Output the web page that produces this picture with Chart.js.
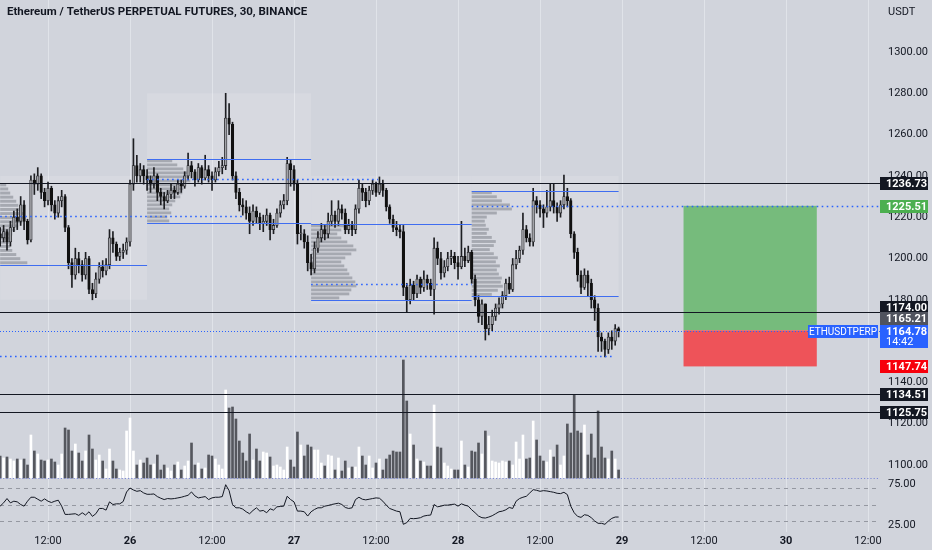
<!DOCTYPE html>
<html>
<head>
<meta charset="utf-8">
<script src="https://cdn.jsdelivr.net/npm/chart.js@4.4.0/dist/chart.umd.min.js"></script>
<style>
html, body { margin: 0; padding: 0; background: #d1d4dc; }
#wrap { width: 932px; height: 550px; position: relative; }
</style>
</head>
<body>
<div id="wrap"><canvas id="chart"></canvas></div>
<script>
// 30m candles, bar index 0 = 25th 05:00
const firstOpen = 1212;
const closes = [1210,1213,1208,1215,1220,1218,1226,1218,1209,1238,
 1236,1240,1232,1228,1234,1226,1222,1228,1230,1215,
 1198,1192,1200,1197,1192,1200,1185,1183,1190,1196,
 1194,1197,1210,1207,1201,1203,1204,1208,1236,1245,
 1240,1243,1240,1238,1236,1240,1232,1230,1228,1231,
 1233,1232,1236,1235,1240,1245,1242,1238,1244,1239,
 1243,1240,1238,1242,1244,1245,1268,1265,1240,1232,
 1226,1225,1222,1218,1223,1220,1217,1218,1221,1214,
 1216,1222,1226,1228,1246,1243,1236,1212,1212,1208,
 1198,1195,1205,1210,1214,1212,1218,1221,1218,1224,
 1222,1214,1216,1214,1224,1234,1232,1228,1233,1236,
 1232,1236,1233,1225,1219,1215,1214,1213,1186,1180,
 1187,1183,1190,1186,1190,1188,1185,1205,1200,1193,
 1196,1200,1201,1198,1196,1201,1199,1203,1190,1180,
 1172,1178,1166,1168,1172,1176,1178,1182,1188,1185,
 1197,1200,1204,1214,1210,1208,1228,1226,1224,1222,
 1225,1228,1225,1222,1226,1230,1228,1212,1203,1192,
 1186,1192,1188,1180,1176,1162,1160,1156,1162,1160,
 1166,1164.78];
const highs = [1215,1216,1214,1218,1223,1224,1230,1228,1219,1240,
 1241,1244,1241,1234,1237,1235,1228,1230,1233,1231,
 1216,1200,1205,1203,1199,1203,1201,1188,1193,1198,
 1199,1200,1214,1213,1208,1205,1207,1210,1238,1258,
 1250,1246,1245,1243,1240,1244,1241,1234,1232,1233,
 1236,1235,1238,1238,1242,1251,1247,1243,1246,1245,
 1250,1245,1242,1244,1247,1249,1280,1275,1266,1242,
 1234,1229,1228,1225,1226,1225,1222,1221,1224,1222,
 1219,1224,1228,1231,1249,1248,1245,1238,1216,1214,
 1211,1202,1208,1213,1217,1216,1222,1228,1223,1228,
 1226,1224,1219,1218,1226,1238,1236,1234,1235,1238,
 1237,1239.5,1238,1234,1226,1221,1218,1216,1216,1188,
 1190,1189,1192,1191,1194,1192,1190,1210,1208,1203,
 1199,1203,1204,1203,1201,1218,1205,1206,1204,1192,
 1182,1180,1178,1172,1175,1178,1181,1184,1190,1191,
 1200,1204,1206,1222,1216,1212,1234,1230,1228,1226,
 1233,1236,1236,1227,1228,1240.4,1234,1229,1213,1205,
 1194,1195,1194,1190,1182,1178,1164,1161,1164,1165,
 1168,1166.8];
const lows = [1206,1208,1204,1206,1213,1214,1216,1214,1207,1208,
 1231,1233,1229,1225,1226,1223,1219,1220,1225,1213,
 1195,1186,1190,1193,1189,1190,1183,1180,1181,1188,
 1191,1192,1195,1203,1199,1199,1200,1202,1206,1233,
 1237,1237,1236,1233,1232,1234,1228,1226,1224,1227,
 1229,1229,1231,1232,1234,1238,1239,1235,1237,1236,
 1238,1237,1233,1237,1240,1241,1243,1260,1238,1229,
 1223,1221,1219,1212,1216,1217,1214,1213,1216,1209,
 1212,1215,1220,1224,1226,1235,1233,1207,1209,1205,
 1194,1192,1193,1203,1208,1209,1210,1216,1215,1216,
 1219,1212,1212,1211,1212,1222,1228,1225,1226,1231,
 1230,1231,1230,1223,1217,1213,1211,1210,1182,1174,
 1178,1180,1181,1183,1184,1185,1182,1173,1197,1190,
 1191,1194,1197,1195,1190,1195,1196,1198,1188,1177,
 1169,1168,1160.5,1163,1165,1170,1173,1176,1180,1183,
 1184,1195,1198,1202,1208,1206,1206,1222,1220,1215,
 1220,1223,1222,1218,1220,1224,1225,1210,1200,1189,
 1183,1185,1182,1176,1170,1155,1155,1152.3,1154,1156,
 1158,1162];
const volumes = [22,20,21,19,17,19,18,19,13,43,
 27,24,18,17,18,19,16,13,24,50,
 48,27,34,25,17,27,43,29,18,23,
 17,9,29,17,9,8,7,47,60,27,
 13,18,15,20,13,14,23,8,13,10,
 7,13,16,8,12,17,35,13,15,9,
 10,23,22,19,13,9,88,70,71,59,
 37,25,17,44,18,29,17,26,25,21,
 12,13,11,8,31,18,11,46,33,22,
 33,31,28,28,15,12,23,22,8,20,
 7,17,10,11,11,31,22,13,22,10,
 15,19,8,19,23,27,26,26,118,77,
 44,33,19,17,16,12,12,73,31,30,
 15,12,9,8,8,37,13,11,27,26,
 35,24,47,42,17,16,15,17,16,17,
 13,36,19,43,19,20,57,38,22,17,
 16,28,21,33,13,22,54,45,83,47,
 45,53,23,44,20,67,31,20,19,27,
 19,8];
const rsiValues = [48,52,57.2,52,54,53.2,50,48,54,58.8,
 58.8,56.4,54,56.8,54,52.4,54,55.2,48,38,
 38,38.4,38.8,36.8,40,37.2,41.2,35.6,38.8,45.2,
 45.2,43.2,53.2,50,50.8,50.8,53.6,65.2,70,67.6,
 66,66.8,64,62.4,62.4,62.8,59.6,57.6,56,57.2,
 56.8,57.2,58,58.8,60,61.2,65.2,60.4,58,58.8,
 59.6,56,58,58.8,58.8,59.6,74,66.8,50,46,
 46,44.4,41.2,38.8,42.8,46,42,42.8,40,44.8,
 43.2,47.2,47.6,48,60,56,53.2,42,42,41.2,
 36,41.2,44,46,46,48,48.8,50,50.8,51.6,
 50,46.4,45.2,46,56,58.8,56.4,55.6,56.4,57.2,
 58,57.6,54,49.2,45.2,43.6,42,41.2,26,28,
 33.2,32.8,33.2,34,36,36.8,37.2,50,47.2,48,
 49.2,49.2,50,50.4,48,50.8,49.2,48,43.6,40,
 36,34,33.6,34.8,36.4,38.8,41.2,42,43.6,46.4,
 45.2,54,57.2,58.8,60,64,68,67.2,66,66.8,
 66.4,65.6,64.8,63.6,63.2,64.8,62,48,40,35.6,
 34.4,37.6,36.8,34,30,27.2,27.2,26,30,33.2,
 34.8,34.8];

const timeTickIndex = [14, 38, 62, 86, 110, 134, 158, 182, 206, 230, 254];
const timeTickLabels = ['12:00', '26', '12:00', '27', '12:00', '28', '12:00', '29', '12:00', '30', '12:00'];
const priceTicks = [1100, 1120, 1140, 1160, 1180, 1200, 1220, 1240, 1260, 1280, 1300];
const rsiTicks = [75, 25];
const rsiBands = [70, 50, 30];

const levelLines = [1236.73, 1174.00, 1134.51, 1125.75];
const lastPrice = 1164.78;
const targetPrice = 1225.51;
const entryPrice = 1165.21;
const stopPrice = 1147.74;
const supportLevel = 1152.8;
const supportEnd = 179;
const positionStart = 200;
const positionEnd = 239;

// session volume profiles
const profileStart = [0, 43, 91, 138];
const profileEnd = [43, 91, 138, 181];
const profileHigh = [1236.6, 1248.2, 1216.7, 1232.8];
const profileLow = [1196.9, 1217.2, 1179.9, 1181.6];
const profilePoc = [1220.6, 1238.5, 1187.6, 1225.51];
const profilePocEnd = [71.6, 110.6, 138, 258];
const sessionHigh = [1240, 1280, 1240, 1240];
const sessionLow = [1180, 1217, 1178, 1181.6];
const profileRows = [
  [6,8,10,13,16,18,21,23,25,22,18,15,12,10,9,10,12,16,20,27],
  [25,30,36,40,42,43,38,36,35,33,28,25,22,24,20,22],
  [33,30,26,30,36,42,45,40,34,30,33,36,38,41,44,45,40,38,28],
  [20,25,30,38,40,25,15,13,14,17,15,20,24,22,18,22,26,24,28,25,27,30,29,31,26,20]
];

const BG = '#d1d4dc';
const FONT = 'Roboto, "Liberation Sans", sans-serif';
const BLUE = '#2962ff';

const opens = closes.map((c, i) => i === 0 ? firstOpen : closes[i - 1]);
const isUp = closes.map((c, i) => c >= opens[i]);

const wickData = closes.map((c, i) => ({ x: i, y: [lows[i], highs[i]] }));
const bodyData = closes.map((c, i) => ({ x: i, y: [opens[i], c] }));
const volData = volumes.map((v, i) => ({ x: i, y: v }));
const rsiData = rsiValues.map((v, i) => ({ x: i, y: v }));

function timeLabel(v) {
    const k = timeTickIndex.indexOf(v);
    return k < 0 ? '' : timeTickLabels[k];
}

function hLine(c, x1, x2, y, color, width, dash) {
    c.save();
    c.strokeStyle = color;
    c.lineWidth = width;
    c.setLineDash(dash || []);
    c.beginPath();
    c.moveTo(x1, Math.round(y) + 0.5);
    c.lineTo(x2, Math.round(y) + 0.5);
    c.stroke();
    c.restore();
}

function tag(c, y, text, bg, fg) {
    c.fillStyle = bg;
    c.fillRect(880, Math.round(y) - 6, 48, 13);
    c.fillStyle = fg;
    c.font = 'bold 11px ' + FONT;
    c.textAlign = 'left';
    c.textBaseline = 'middle';
    c.fillText(text, 886, Math.round(y) + 1);
}

const overlayPlugin = {
    id: 'overlay',
    beforeDraw(chart) {
        const c = chart.ctx;
        c.save();
        c.fillStyle = BG;
        c.fillRect(0, 0, chart.width, chart.height);
        c.restore();
    },
    beforeDatasetsDraw(chart) {
        const c = chart.ctx;
        const { x, y, rsi } = chart.scales;
        const area = chart.chartArea;
        c.save();
        c.beginPath();
        c.rect(area.left, area.top, area.right - area.left, area.bottom - area.top);
        c.clip();

        // session boxes
        c.fillStyle = 'rgba(255,255,255,0.13)';
        profileStart.forEach((s, k) => {
            const x1 = x.getPixelForValue(s), x2 = x.getPixelForValue(profileEnd[k]);
            const y1 = y.getPixelForValue(sessionHigh[k]), y2 = y.getPixelForValue(sessionLow[k]);
            c.fillRect(x1, y1, x2 - x1, y2 - y1);
        });

        // volume profile rows
        const unit = x.getPixelForValue(1) - x.getPixelForValue(0);
        c.fillStyle = 'rgba(118,121,130,0.5)';
        profileRows.forEach((rows, k) => {
            const top = y.getPixelForValue(profileHigh[k]);
            const bottom = y.getPixelForValue(profileLow[k]);
            const rowH = (bottom - top) / rows.length;
            const x0 = x.getPixelForValue(profileStart[k]);
            rows.forEach((v, r) => {
                c.fillRect(x0, top + r * rowH + 0.5, v / 3.4 * unit, Math.max(1, rowH - 1.2));
            });
        });

        // long position box
        const px1 = x.getPixelForValue(positionStart), px2 = x.getPixelForValue(positionEnd);
        const yt = y.getPixelForValue(targetPrice), ye = y.getPixelForValue(entryPrice), ys = y.getPixelForValue(stopPrice);
        c.fillStyle = '#76bb7c';
        c.fillRect(px1, yt, px2 - px1, ye - yt);
        c.fillStyle = '#ee5359';
        c.fillRect(px1, ye, px2 - px1, ys - ye);

        // rsi bands
        rsiBands.forEach(b => hLine(c, area.left, area.right, rsi.getPixelForValue(b), '#9598a1', 1, [4, 4]));
        c.restore();
    },
    afterDatasetsDraw(chart) {
        const c = chart.ctx;
        const { x, y, vol } = chart.scales;
        const area = chart.chartArea;
        c.save();

        // profile value area edges and POC
        profileStart.forEach((s, k) => {
            const x1 = x.getPixelForValue(s), x2 = x.getPixelForValue(profileEnd[k]);
            hLine(c, x1, x2, y.getPixelForValue(profileHigh[k]), '#3f6df0', 1);
            hLine(c, x1, x2, y.getPixelForValue(profileLow[k]), '#3f6df0', 1);
            hLine(c, x1, Math.min(area.right, x.getPixelForValue(profilePocEnd[k])), y.getPixelForValue(profilePoc[k]), BLUE, 1.6, [1.6, 3.4]);
        });

        levelLines.forEach(l => hLine(c, area.left, area.right, y.getPixelForValue(l), '#131722', 1));

        hLine(c, area.left, x.getPixelForValue(supportEnd), y.getPixelForValue(supportLevel), BLUE, 1.6, [1.6, 3.4]);
        hLine(c, area.left, area.right, y.getPixelForValue(lastPrice), BLUE, 1, [1, 2]);
        hLine(c, area.left, area.right, vol.getPixelForValue(0), '#7f8bd8', 1.2, [1.2, 2]);
        c.restore();
    },
    afterDraw(chart) {
        const c = chart.ctx;
        const { y, rsi } = chart.scales;
        c.save();

        // rsi pane scale labels
        c.fillStyle = '#131722';
        c.font = '11px ' + FONT;
        c.textAlign = 'left';
        c.textBaseline = 'middle';
        rsiTicks.forEach(v => c.fillText(v.toFixed(2), 888, rsi.getPixelForValue(v)));
        c.fillText('USDT', 888, 12);

        tag(c, y.getPixelForValue(1236.73), '1236.73', '#131722', '#ffffff');
        tag(c, y.getPixelForValue(targetPrice), targetPrice.toFixed(2), '#4caf50', '#ffffff');
        tag(c, y.getPixelForValue(1174.00) - 5, '1174.00', '#131722', '#ffffff');
        tag(c, y.getPixelForValue(entryPrice) - 12, entryPrice.toFixed(2), '#50535e', '#ffffff');
        tag(c, y.getPixelForValue(stopPrice), stopPrice.toFixed(2), '#f7000c', '#ffffff');
        tag(c, y.getPixelForValue(1134.51), '1134.51', '#131722', '#ffffff');
        tag(c, y.getPixelForValue(1125.75), '1125.75', '#131722', '#ffffff');

        // last price with countdown
        const yl = Math.round(y.getPixelForValue(lastPrice));
        c.fillStyle = BLUE;
        c.fillRect(880, yl - 6, 48, 23);
        c.fillRect(808, yl - 6, 70, 13);
        c.fillStyle = '#ffffff';
        c.font = 'bold 11px ' + FONT;
        c.fillText(lastPrice.toFixed(2), 886, yl + 1);
        c.font = '11px ' + FONT;
        c.fillText('14:42', 886, yl + 11);
        c.font = '10px ' + FONT;
        c.textAlign = 'center';
        c.fillText('ETHUSDTPERP', 843, yl + 1);

        // title
        c.textAlign = 'left';
        c.fillStyle = '#131722';
        c.font = 'bold 11.5px ' + FONT;
        c.fillText('Ethereum / TetherUS PERPETUAL FUTURES, 30, BINANCE', 7, 12);
        c.restore();
    }
};

const chart = new Chart(document.getElementById('chart').getContext('2d'), {
    data: {
        datasets: [
            {
                type: 'line', label: 'RSI', data: rsiData, xAxisID: 'x', yAxisID: 'rsi',
                borderColor: '#131722', borderWidth: 1, pointRadius: 0, tension: 0, order: 0
            },
            {
                type: 'bar', label: 'bodies', data: bodyData, xAxisID: 'x', yAxisID: 'y',
                backgroundColor: isUp.map(u => u ? '#a2a3a8' : '#111111'),
                borderColor: isUp.map(u => u ? '#26272b' : '#111111'),
                borderWidth: 0.8, borderSkipped: false, barThickness: 2.6,
                minBarLength: 1, grouped: false, order: 1
            },
            {
                type: 'bar', label: 'wicks', data: wickData, xAxisID: 'x', yAxisID: 'y',
                backgroundColor: '#1d1e22', barThickness: 1, grouped: false, order: 2
            },
            {
                type: 'bar', label: 'volume', data: volData, xAxisID: 'x', yAxisID: 'vol',
                backgroundColor: isUp.map(u => u ? '#ffffff' : '#55575e'),
                barThickness: 2, grouped: false, order: 3
            }
        ]
    },
    options: {
        responsive: true,
        maintainAspectRatio: false,
        animation: false,
        events: [],
        layout: { padding: 0 },
        plugins: { legend: { display: false }, tooltip: { enabled: false } },
        scales: {
            x: {
                type: 'linear', axis: 'x', position: 'bottom', offset: false, min: -0.05, max: 257.5,
                afterBuildTicks: s => { s.ticks = timeTickIndex.map(v => ({ value: v })); },
                afterFit: s => { s.height = 18; s.paddingLeft = 0; s.paddingRight = 0; },
                ticks: {
                    autoSkip: false, maxRotation: 0, padding: 3, color: '#131722',
                    font: c => ({ family: FONT, size: 11, weight: (c.tick && /^\d\d$/.test(timeLabel(c.tick.value))) ? 'bold' : 'normal' }),
                    callback: v => timeLabel(v)
                },
                grid: { color: 'rgba(236,238,244,0.55)', drawTicks: false, offset: false },
                border: { display: false }
            },
            y: {
                type: 'linear', axis: 'y', position: 'right', min: 1067.55, max: 1325.18,
                afterBuildTicks: s => { s.ticks = priceTicks.map(v => ({ value: v })); },
                afterFit: s => { s.width = 52; s.paddingTop = 0; s.paddingBottom = 0; },
                ticks: { color: '#131722', padding: 8, font: { family: FONT, size: 11 }, callback: v => v.toFixed(2) },
                grid: { display: false, drawTicks: false },
                border: { display: false }
            },
            vol: { type: 'linear', axis: 'y', position: 'right', display: false, min: -54, max: 478 },
            rsi: { type: 'linear', axis: 'y', position: 'right', display: false, min: 16.67, max: 661.5 }
        }
    },
    plugins: [overlayPlugin]
});
</script>
</body>
</html>
